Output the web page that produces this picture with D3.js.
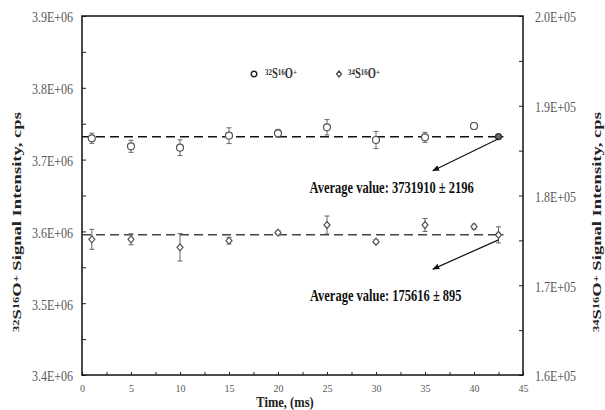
<!DOCTYPE html>
<html>
<head>
<meta charset="utf-8">
<script src="https://cdn.jsdelivr.net/npm/d3@7"></script>
<style>
  body { margin: 0; background: #fff; }
  svg text { font-family: "Liberation Serif", "Times New Roman", serif; }
</style>
</head>
<body>
<svg width="605" height="410"></svg>
<script>
// data
var times = [1, 5, 10, 15, 20, 25, 30, 35, 40]
var s32 = [3729700, 3718500, 3716600, 3733300, 3736600, 3745000, 3727300, 3731000, 3746800]
var s32Err = [7000, 8400, 11000, 11000, 5500, 10700, 12000, 7000, 4600]
var s34 = [175120, 175120, 174228, 174964, 175855, 176713, 174852, 176713, 176524]
var s34Err = [1114, 613, 1526, 370, 220, 1000, 220, 724, 280]

// average values (plotted at the end of the run)
var avgTime = 42.5
var avg32 = 3731910, avg32Err = 2196
var avg34 = 175616, avg34Err = 895

var xTicks = [0, 5, 10, 15, 20, 25, 30, 35, 40, 45]
var yLeftTicks = [3.4e6, 3.5e6, 3.6e6, 3.7e6, 3.8e6, 3.9e6]
var yLeftTickLabels = ['3.4E+06', '3.5E+06', '3.6E+06', '3.7E+06', '3.8E+06', '3.9E+06']
var yRightTicks = [1.6e5, 1.7e5, 1.8e5, 1.9e5, 2.0e5]
var yRightTickLabels = ['1.6E+05', '1.7E+05', '1.8E+05', '1.9E+05', '2.0E+05']

var pLeft = 82, pRight = 523, pTop = 16, pBottom = 375
var svg = d3.select('svg')

var x = d3.scaleLinear().domain([0, 45]).range([pLeft, pRight])
var yL = d3.scaleLinear().domain([3.4e6, 3.9e6]).range([pBottom, pTop])
var yR = d3.scaleLinear().domain([1.6e5, 2.0e5]).range([pBottom, pTop])

var grey = '#595959'
// the source picture is a little stretched vertically, so text is drawn taller
var vStretch = 1.3

// stretch a text upward from its baseline
function tall(sel, k) {
    sel.each(function() {
        var t = d3.select(this), y = +t.attr('y') || 0
        t.attr('transform', 'translate(0,' + y + ') scale(1,' + k + ') translate(0,' + (-y) + ')')
    })
}

// minor ticks
svg.append('g').attr('transform', 'translate(0,' + pBottom + ')')
    .call(d3.axisBottom(x).tickValues(d3.range(0, 45.1, 2.5)).tickSize(-3).tickFormat(''))
svg.append('g').attr('transform', 'translate(' + pLeft + ',0)')
    .call(d3.axisLeft(yL).tickValues(d3.range(3.4e6, 3.9e6 + 1, 5e4)).tickSize(-4).tickFormat(''))
svg.append('g').attr('transform', 'translate(' + pRight + ',0)')
    .call(d3.axisRight(yR).tickValues(d3.range(1.6e5, 2.0e5 + 1, 5e3)).tickSize(-4).tickFormat(''))

// major axes with labels
var xAxis = svg.append('g').attr('transform', 'translate(0,' + pBottom + ')')
    .call(d3.axisBottom(x).tickValues(xTicks).tickSize(0).tickPadding(10))
xAxis.selectAll('text').style('font-size', '10px').style('fill', grey)

var yAxisL = svg.append('g').attr('transform', 'translate(' + pLeft + ',0)')
    .call(d3.axisLeft(yL).tickValues(yLeftTicks).tickSize(0).tickPadding(9)
        .tickFormat(function(d, i) { return yLeftTickLabels[i] }))
yAxisL.selectAll('text').style('font-size', '12px').style('fill', grey)
    .attr('dy', '0.38em').call(tall, vStretch)

var yAxisR = svg.append('g').attr('transform', 'translate(' + pRight + ',0)')
    .call(d3.axisRight(yR).tickValues(yRightTicks).tickSize(0).tickPadding(12)
        .tickFormat(function(d, i) { return yRightTickLabels[i] }))
yAxisR.selectAll('text').style('font-size', '12px').style('fill', grey)
    .attr('dy', '0.38em').call(tall, vStretch)

svg.selectAll('.domain').remove()
svg.selectAll('.tick line').attr('stroke', '#222')

// frame
svg.append('rect').attr('x', pLeft).attr('y', pTop)
    .attr('width', pRight - pLeft).attr('height', pBottom - pTop)
    .attr('fill', 'none').attr('stroke', '#111').attr('stroke-width', 1.5)

// dashed average lines
svg.append('line').attr('x1', x(0)).attr('x2', x(43)).attr('y1', yL(avg32)).attr('y2', yL(avg32))
    .attr('stroke', '#111').attr('stroke-width', 1.5).attr('stroke-dasharray', '9,5')
svg.append('line').attr('x1', x(0)).attr('x2', x(43)).attr('y1', yR(avg34)).attr('y2', yR(avg34))
    .attr('stroke', '#444').attr('stroke-width', 1.5).attr('stroke-dasharray', '9,5')

// error bars
function errBars(vals, errs, sc, xs) {
    var g = svg.append('g').attr('stroke', '#666').attr('stroke-width', 1)
    vals.forEach(function(v, i) {
        var cx = x(xs[i]), y1 = sc(v - errs[i]), y2 = sc(v + errs[i])
        g.append('line').attr('x1', cx).attr('x2', cx).attr('y1', y1).attr('y2', y2)
        g.append('line').attr('x1', cx - 2.5).attr('x2', cx + 2.5).attr('y1', y1).attr('y2', y1)
        g.append('line').attr('x1', cx - 2.5).attr('x2', cx + 2.5).attr('y1', y2).attr('y2', y2)
    })
}
errBars(s32.concat([avg32]), s32Err.concat([avg32Err]), yL, times.concat([avgTime]))
errBars(s34.concat([avg34]), s34Err.concat([avg34Err]), yR, times.concat([avgTime]))

function diamond(cx, cy, w, h) {
    return 'M' + cx + ',' + (cy - h) + 'L' + (cx + w) + ',' + cy + 'L' + cx + ',' + (cy + h) + 'L' + (cx - w) + ',' + cy + 'Z'
}

// 32S16O+ circles
svg.append('g').selectAll('circle').data(s32).enter().append('circle')
    .attr('cx', function(d, i) { return x(times[i]) })
    .attr('cy', function(d) { return yL(d) })
    .attr('r', 3.5).attr('fill', 'white').attr('stroke', '#555').attr('stroke-width', 1.2)
svg.append('circle').attr('cx', x(avgTime)).attr('cy', yL(avg32)).attr('r', 3)
    .attr('fill', '#666').attr('stroke', '#333').attr('stroke-width', 1.2)

// 34S16O+ diamonds
svg.append('g').selectAll('path').data(s34).enter().append('path')
    .attr('d', function(d, i) { return diamond(x(times[i]), yR(d), 3, 3.5) })
    .attr('fill', 'white').attr('stroke', '#555').attr('stroke-width', 1.2)
svg.append('path').attr('d', diamond(x(avgTime), yR(avg34), 3, 3.5))
    .attr('fill', 'white').attr('stroke', '#444').attr('stroke-width', 1.2)

// arrows
svg.append('defs').append('marker').attr('id', 'head')
    .attr('viewBox', '0 0 10 10').attr('refX', 9).attr('refY', 5)
    .attr('markerWidth', 6).attr('markerHeight', 6).attr('orient', 'auto')
    .append('path').attr('d', 'M0,1L10,5L0,9Z').attr('fill', '#111')
svg.append('line').attr('x1', x(avgTime)).attr('y1', yL(avg32) + 2)
    .attr('x2', x(35.8)).attr('y2', yL(3.6845e6))
    .attr('stroke', '#111').attr('stroke-width', 1.2).attr('marker-end', 'url(#head)')
svg.append('line').attr('x1', x(avgTime)).attr('y1', yR(avg34) + 5)
    .attr('x2', x(35.8)).attr('y2', yR(171800))
    .attr('stroke', '#111').attr('stroke-width', 1.2).attr('marker-end', 'url(#head)')

// annotation text
svg.append('text').attr('x', x(31.6)).attr('y', yL(3.653e6)).attr('text-anchor', 'middle')
    .style('font-size', '12.5px').style('font-weight', 'bold').attr('fill', '#111')
    .text('Average value: 3731910 ± 2196').call(tall, vStretch)
svg.append('text').attr('x', x(31.0)).attr('y', yR(168250)).attr('text-anchor', 'middle')
    .style('font-size', '12.5px').style('font-weight', 'bold').attr('fill', '#111')
    .text('Average value: 175616 ± 895').call(tall, vStretch)

// formula label helper: parts of [text, isSup]
function formula(sel, parts, sizeBig, sizeSup) {
    parts.forEach(function(p) {
        sel.append('tspan').text(p[0])
            .style('font-size', p[1] ? sizeSup : sizeBig)
            .attr('baseline-shift', p[1] ? '35%' : null)
    })
}
var f32 = [['32', 1], ['S', 0], ['16', 1], ['O', 0], ['+', 1]]
var f34 = [['34', 1], ['S', 0], ['16', 1], ['O', 0], ['+', 1]]

// legend
svg.append('circle').attr('cx', 254).attr('cy', 74).attr('r', 2.8)
    .attr('fill', 'white').attr('stroke', '#222').attr('stroke-width', 1.4)
var lt1 = svg.append('text').attr('x', 265).attr('y', 78).style('font-weight', 'bold').attr('fill', '#333')
formula(lt1, f32, '10.5px', '7px')
lt1.call(tall, vStretch)
svg.append('path').attr('d', diamond(339, 74, 2.5, 3))
    .attr('fill', 'white').attr('stroke', '#444').attr('stroke-width', 1.2)
var lt2 = svg.append('text').attr('x', 348).attr('y', 78).style('font-weight', 'bold').attr('fill', '#333')
formula(lt2, f34, '10.5px', '7px')
lt2.call(tall, vStretch)

// axis titles (stretched along their length, like the picture)
var tl = svg.append('text').attr('transform', 'translate(21,222) rotate(-90) scale(1.55,1)')
    .attr('text-anchor', 'middle').style('font-weight', 'bold').attr('fill', '#222')
formula(tl, f32, '12px', '8px')
tl.append('tspan').text(' Signal Intensity, cps').style('font-size', '12px')

var tr = svg.append('text').attr('transform', 'translate(601,222) rotate(-90) scale(1.55,1)')
    .attr('text-anchor', 'middle').style('font-weight', 'bold').attr('fill', '#222')
formula(tr, f34, '12px', '8px')
tr.append('tspan').text(' Signal Intensity, cps').style('font-size', '12px')

svg.append('text').attr('x', 285).attr('y', 407).attr('text-anchor', 'middle')
    .style('font-size', '12.5px').style('font-weight', 'bold').attr('fill', '#222')
    .text('Time, (ms)').call(tall, 1.2)
</script>
</body>
</html>
